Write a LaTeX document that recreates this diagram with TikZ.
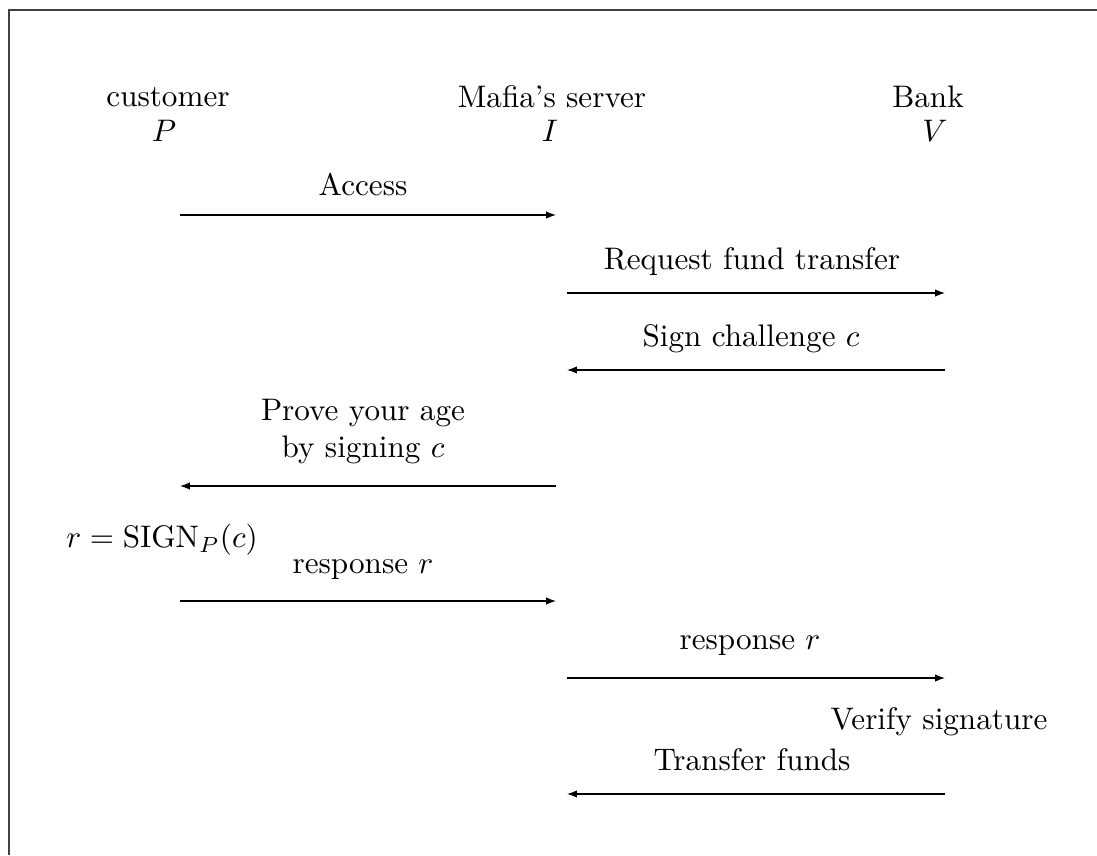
\documentclass[tikz,border=0pt]{standalone}
\usetikzlibrary{arrows.meta}
\begin{document}
\begin{tikzpicture}[x=0.321pt,y=-0.321pt,
  msg/.style={-{Latex[length=3.2pt,width=2.4pt]},line width=0.4pt},
  lbl/.style={inner sep=0pt,align=center}]
\useasboundingbox (0,0) rectangle (1097,855);
\coordinate (fbl) at (9,855);
\coordinate (ftl) at (9,10);
\coordinate (ftr) at (1097,10);
\draw[line width=0.5pt,black!75] (fbl) -- (ftl) -- (ftr);
% headers
\node[lbl] (hP) at (168,97) {customer};
\node[lbl] (sP) at (164,131) {$P$};
\node[lbl] (hI) at (552,97) {Mafia's server};
\node[lbl] (sI) at (550,131) {$I$};
\node[lbl] (hV) at (928,97) {Bank};
\node[lbl] (sV) at (935,131) {$V$};
% coordinates
\coordinate (a1) at (180,215); \coordinate (b1) at (556,215);
\coordinate (a2) at (567,293); \coordinate (b2) at (945,293);
\coordinate (a3) at (945,370); \coordinate (b3) at (567,370);
\coordinate (a4) at (556,486); \coordinate (b4) at (180,486);
\coordinate (a5) at (180,601); \coordinate (b5) at (556,601);
\coordinate (a6) at (567,678); \coordinate (b6) at (945,678);
\coordinate (a7) at (945,794); \coordinate (b7) at (567,794);
% arrows
\draw[msg] (a1) -- (b1);
\draw[msg] (a2) -- (b2);
\draw[msg] (a3) -- (b3);
\draw[msg] (a4) -- (b4);
\draw[msg] (a5) -- (b5);
\draw[msg] (a6) -- (b6);
\draw[msg] (a7) -- (b7);
% labels
\node[lbl] (l1) at (363,185) {Access};
\node[lbl] (l2) at (752,262) {Request fund transfer};
\node[lbl] (l3) at (751,339) {Sign challenge $c$};
\node[lbl] (l4a) at (363,413) {Prove your age};
\node[lbl] (l4b) at (363,450) {by signing $c$};
\node[lbl] (l5) at (162,540) {$r=\mathrm{SIGN}_P(c)$};
\node[lbl] (l6) at (363,570) {response $r$};
\node[lbl] (l7) at (750,646) {response $r$};
\node[lbl] (l8) at (939,722) {Verify signature};
\node[lbl] (l9) at (752,760) {Transfer funds};
\end{tikzpicture}
\end{document}
